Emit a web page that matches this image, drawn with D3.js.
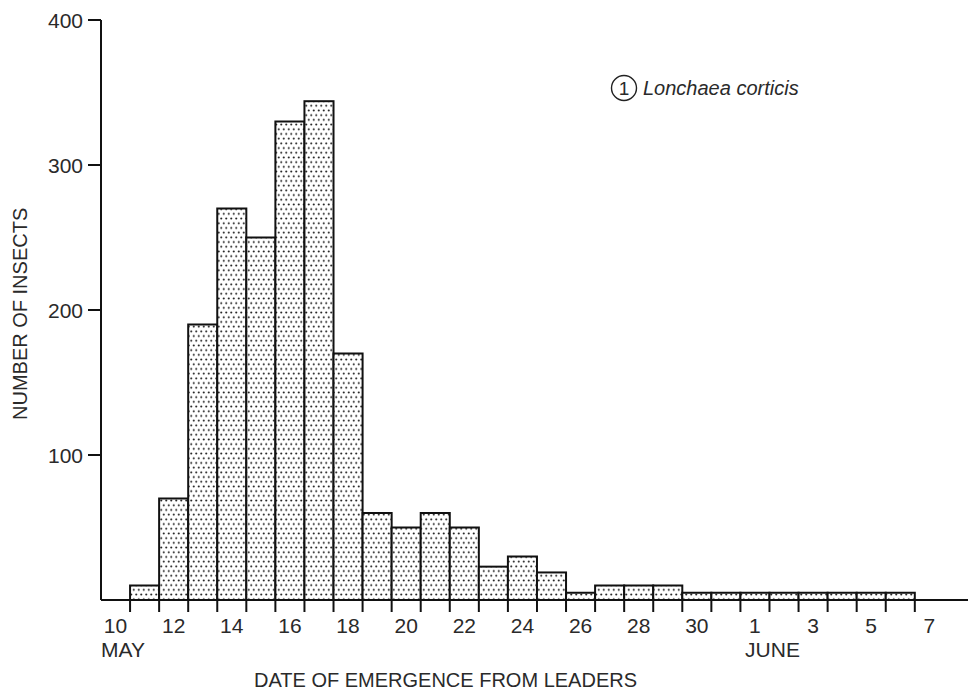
<!DOCTYPE html>
<html>
<head>
<meta charset="utf-8">
<script src="https://cdn.jsdelivr.net/npm/d3@7"></script>
<style>
  html, body { margin: 0; padding: 0; background: #fff; }
  svg { display: block; }
  text { font-family: "Liberation Sans", Arial, Helvetica, sans-serif; fill: #2a2a2a; }
</style>
</head>
<body>
<div id="chart"></div>
<script>
// ---- data ----
// day index 0 = 10 May ... 28 = 7 June
const barDays   = [1,2,3,4,5,6,7,8,9,10,11,12,13,14,15,16,17,18,19,20,21,22,23,24,25,26,27];
const barDates  = ["May 11","May 12","May 13","May 14","May 15","May 16","May 17","May 18","May 19","May 20",
                   "May 21","May 22","May 23","May 24","May 25","May 26","May 27","May 28","May 29","May 30",
                   "May 31","Jun 1","Jun 2","Jun 3","Jun 4","Jun 5","Jun 6"];
const insects   = [10,70,190,270,250,330,344,170,60,50,60,50,23,30,19,5,10,10,10,5,5,5,5,5,5,5,5];
const xLabelDays = [0,2,4,6,8,10,12,14,16,18,20,22,24,26,28];
const xLabels    = ["10","12","14","16","18","20","22","24","26","28","30","1","3","5","7"];
const yTickValues = [100,200,300,400];
const yTickLabels = ["100","200","300","400"];
const monthLabels = [{day:0, text:"MAY"},{day:23, text:"JUNE"}];
const legendText = "Lonchaea corticis";

// ---- layout ----
const W = 968, H = 690;
const svg = d3.select("#chart").append("svg").attr("width", W).attr("height", H);

const x = d3.scaleLinear().domain([0, 29.83]).range([101, 968]);
const y = d3.scaleLinear().domain([0, 400]).range([600, 20]);

// dot pattern (staggered rows)
const defs = svg.append("defs");
const pat = defs.append("pattern").attr("id","dots").attr("patternUnits","userSpaceOnUse")
  .attr("width",5).attr("height",9.4);
pat.append("rect").attr("width",5).attr("height",9.4).attr("fill","#fff");
pat.append("circle").attr("cx",1.25).attr("cy",2.35).attr("r",1.05).attr("fill","#222");
pat.append("circle").attr("cx",3.75).attr("cy",7.05).attr("r",1.05).attr("fill","#222");

// bars
svg.append("g").selectAll("rect").data(insects).join("rect")
  .attr("x", (d,i) => x(barDays[i]))
  .attr("width", (d,i) => x(barDays[i]+1) - x(barDays[i]))
  .attr("y", d => y(d))
  .attr("height", d => y(0) - y(d))
  .attr("fill", "url(#dots)")
  .attr("stroke", "#111")
  .attr("stroke-width", 2);

// x axis: line + ticks at day boundaries
const xg = svg.append("g");
xg.append("line").attr("x1", x(0)).attr("x2", W).attr("y1", y(0)).attr("y2", y(0))
  .attr("stroke","#111").attr("stroke-width",2);
const boundaries = d3.range(1, 29);
xg.selectAll("line.tick").data(boundaries).join("line").attr("class","tick")
  .attr("x1", d => x(d)).attr("x2", d => x(d))
  .attr("y1", y(0)).attr("y2", y(0) + 12)
  .attr("stroke","#111").attr("stroke-width",2);
xg.selectAll("text.lbl").data(xLabelDays).join("text").attr("class","lbl")
  .attr("x", d => x(d + 0.5)).attr("y", 633)
  .attr("text-anchor","middle").attr("font-size",21)
  .text((d,i) => xLabels[i]);
xg.selectAll("text.month").data(monthLabels).join("text").attr("class","month")
  .attr("x", d => d.day === 0 ? x(0) : x(d.day) + 3).attr("y", 657)
  .attr("text-anchor", d => d.day === 0 ? "start" : "middle").attr("font-size",21)
  .text(d => d.text);

// y axis
const yg = svg.append("g");
yg.append("line").attr("x1", x(0)).attr("x2", x(0)).attr("y1", y(400)).attr("y2", y(0))
  .attr("stroke","#111").attr("stroke-width",2);
yg.selectAll("line.tick").data(yTickValues).join("line").attr("class","tick")
  .attr("x1", x(0) - 13).attr("x2", x(0)).attr("y1", d => y(d)).attr("y2", d => y(d))
  .attr("stroke","#111").attr("stroke-width",2);
yg.selectAll("text").data(yTickValues).join("text")
  .attr("x", x(0) - 18).attr("y", d => y(d)).attr("dy","0.36em")
  .attr("text-anchor","end").attr("font-size",21)
  .text((d,i) => yTickLabels[i]);

// axis titles
svg.append("text").attr("transform","translate(27,420) rotate(-90)")
  .attr("text-anchor","start").attr("font-size",20)
  .text("NUMBER OF INSECTS");
svg.append("text").attr("x", 254).attr("y", 687)
  .attr("text-anchor","start").attr("font-size",20)
  .text("DATE OF EMERGENCE FROM LEADERS");

// legend
const lg = svg.append("g");
lg.append("circle").attr("cx",624).attr("cy",88).attr("r",12.5)
  .attr("fill","none").attr("stroke","#222").attr("stroke-width",1.4);
lg.append("text").attr("x",624).attr("y",88).attr("dy","0.36em")
  .attr("text-anchor","middle").attr("font-size",19).text("1");
lg.append("text").attr("x",643).attr("y",95)
  .attr("font-size",20).attr("font-style","italic").text(legendText);
</script>
</body>
</html>
